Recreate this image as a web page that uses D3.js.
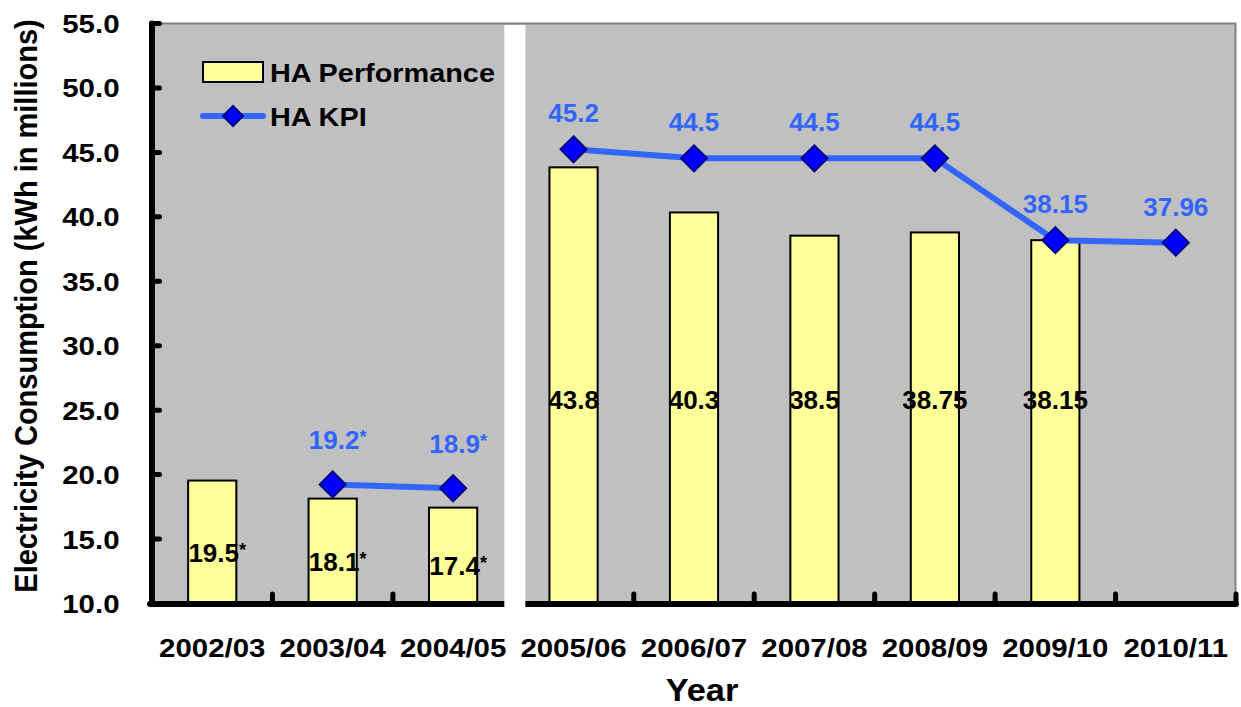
<!DOCTYPE html>
<html>
<head>
<meta charset="utf-8">
<script src="https://cdn.jsdelivr.net/npm/d3@7"></script>
<style>
  body { margin: 0; background: #fff; }
  text { font-family: "Liberation Sans", Arial, sans-serif; font-weight: bold; }
</style>
</head>
<body>
<div id="chart"></div>
<script>
// chart data
var years = ["2002/03", "2003/04", "2004/05", "2005/06", "2006/07", "2007/08", "2008/09", "2009/10", "2010/11"];
var performance = [19.5, 18.1, 17.4, 43.8, 40.3, 38.5, 38.75, 38.15, null];
var perfLabels = ["19.5", "18.1", "17.4", "43.8", "40.3", "38.5", "38.75", "38.15", ""];
var kpi = [null, 19.2, 18.9, 45.2, 44.5, 44.5, 44.5, 38.15, 37.96];
var kpiLabels = ["", "19.2", "18.9", "45.2", "44.5", "44.5", "44.5", "38.15", "37.96"];
var starred = [true, true, true, false, false, false, false, false, false];
var yTicks = [10, 15, 20, 25, 30, 35, 40, 45, 50, 55];

var width = 1241, height = 707;
var margin = {top: 23, right: 5, bottom: 104, left: 152};
// axis text in the original is a little wider than it is tall
var SX = 1.11;
var stretch = "scale(" + SX + ",1)";

var svg = d3.select("#chart")
  .append("svg")
  .attr("width", width)
  .attr("height", height);

var xScale = d3.scaleBand()
  .domain(years)
  .range([margin.left, width - margin.right])
  .paddingInner(0.6)
  .paddingOuter(0.3);

var yScale = d3.scaleLinear()
  .domain([10, 55])
  .range([height - margin.bottom, margin.top]);

var step = xScale.step();
var x0 = margin.left, x1 = width - margin.right;
var y0 = yScale(10), y1 = yScale(55);

function cx(d) { return xScale(d) + xScale.bandwidth() / 2; }

// plot background
svg.append("rect")
  .attr("x", x0).attr("y", y1)
  .attr("width", x1 - x0).attr("height", y0 - y1)
  .style("fill", "#c0c0c0");

svg.append("path")
  .attr("d", "M" + x0 + "," + (y1 + 0.5) + "H" + (x1 - 0.5) + "V" + y0)
  .style("fill", "none")
  .style("stroke", "#808080")
  .style("stroke-width", 2);

// bars
var barYears = years.filter(function(d, i) { return performance[i] != null; });

svg.selectAll(".bar")
  .data(barYears)
  .enter()
  .append("rect")
  .attr("class", "bar")
  .attr("x", function(d) { return xScale(d); })
  .attr("width", xScale.bandwidth())
  .attr("y", function(d) { return yScale(performance[years.indexOf(d)]); })
  .attr("height", function(d) { return y0 - yScale(performance[years.indexOf(d)]); })
  .style("fill", "#ffff99")
  .style("stroke", "#000")
  .style("stroke-width", 2);

// bar labels
var barText = svg.selectAll(".barlabel")
  .data(barYears)
  .enter()
  .append("text")
  .attr("class", "barlabel")
  .attr("x", function(d) { return cx(d) + (starred[years.indexOf(d)] ? 5 : 0); })
  .attr("y", function(d) {
    var i = years.indexOf(d);
    if (starred[i]) return (yScale(performance[i]) + y0) / 2 + 20;
    return yScale(25.8) + 10;
  })
  .attr("text-anchor", "middle")
  .style("font-size", "26px")
  .style("fill", "#000");
barText.append("tspan").text(function(d) { return perfLabels[years.indexOf(d)]; });
barText.append("tspan")
  .text(function(d) { return starred[years.indexOf(d)] ? "*" : ""; })
  .attr("dy", -6)
  .style("font-size", "18px");

// KPI line, broken between the two periods
var segs = [years.slice(0, 3), years.slice(3)];
segs.forEach(function(seg) {
  svg.append("path")
    .datum(seg.filter(function(d) { return kpi[years.indexOf(d)] != null; }))
    .attr("d", d3.line()
      .x(cx)
      .y(function(d) { return yScale(kpi[years.indexOf(d)]); }))
    .style("fill", "none")
    .style("stroke", "#3366ff")
    .style("stroke-width", 6);
});

var kpiYears = years.filter(function(d, i) { return kpi[i] != null; });

svg.selectAll(".diamond")
  .data(kpiYears)
  .enter()
  .append("path")
  .attr("class", "diamond")
  .attr("d", "M0,-13L13,0L0,13L-13,0Z")
  .attr("transform", function(d) {
    return "translate(" + cx(d) + "," + yScale(kpi[years.indexOf(d)]) + ")";
  })
  .style("fill", "#0000ff")
  .style("stroke", "#000080")
  .style("stroke-width", 2);

var kpiText = svg.selectAll(".kpilabel")
  .data(kpiYears)
  .enter()
  .append("text")
  .attr("class", "kpilabel")
  .attr("x", function(d) { return cx(d) + (starred[years.indexOf(d)] ? 5 : 0); })
  .attr("y", function(d) {
    var i = years.indexOf(d);
    return yScale(kpi[i]) - (starred[i] ? 45 : 37) + 10;
  })
  .attr("text-anchor", "middle")
  .style("font-size", "26px")
  .style("fill", "#3366ff");
kpiText.append("tspan").text(function(d) { return kpiLabels[years.indexOf(d)]; });
kpiText.append("tspan")
  .text(function(d) { return starred[years.indexOf(d)] ? "*" : ""; })
  .attr("dy", -6)
  .style("font-size", "18px");

// y axis
var yAxis = svg.append("g")
  .attr("transform", "translate(" + (x0 - 0.5) + ",0)")
  .call(d3.axisLeft(yScale)
    .tickValues(yTicks)
    .tickFormat(d3.format(".1f"))
    .tickSizeInner(-8)
    .tickSizeOuter(0)
    .tickPadding(32 / SX));
yAxis.select(".domain").style("stroke", "#000").style("stroke-width", 6).style("stroke-linecap", "round");
yAxis.selectAll(".tick line").style("stroke", "#000").style("stroke-width", 5).style("stroke-linecap", "round");
yAxis.selectAll(".tick text")
  .attr("transform", stretch)
  .style("font-size", "26.5px")
  .style("fill", "#000")
  .attr("dy", "0.36em");

// x axis: labels at the centres, ticks on category boundaries
var xAxis = svg.append("g")
  .attr("transform", "translate(0," + (y0 + 1) + ")")
  .call(d3.axisBottom(xScale).tickSize(0).tickPadding(34));
xAxis.select(".domain").remove();
xAxis.selectAll(".tick text")
  .attr("transform", stretch)
  .style("font-size", "26.5px")
  .style("fill", "#000");

svg.append("line")
  .attr("x1", x0 - 2).attr("x2", x1)
  .attr("y1", y0 + 1).attr("y2", y0 + 1)
  .style("stroke", "#000")
  .style("stroke-width", 6)
  .style("stroke-linecap", "round");

svg.selectAll(".xtick")
  .data(years)
  .enter()
  .append("line")
  .attr("class", "xtick")
  .attr("x1", function(d) { return xScale(d) - xScale.bandwidth() * 0.75 + step; })
  .attr("x2", function(d) { return xScale(d) - xScale.bandwidth() * 0.75 + step; })
  .attr("y1", y0)
  .attr("y2", y0 - 9)
  .style("stroke", "#000")
  .style("stroke-width", 5)
  .style("stroke-linecap", "round");

// white break between 2004/05 and 2005/06
var gapX = xScale("2005/06") - xScale.bandwidth() * 0.75;
svg.append("rect")
  .attr("x", gapX - 9).attr("y", y1 + 2)
  .attr("width", 21).attr("height", y0 - y1 + 6)
  .style("fill", "#fff");

// axis titles
svg.append("text")
  .attr("transform", stretch)
  .attr("x", ((x0 + x1) / 2 + 8) / SX)
  .attr("y", 701)
  .attr("text-anchor", "middle")
  .style("font-size", "31px")
  .style("fill", "#000")
  .text("Year");

svg.append("text")
  .attr("transform", "translate(37,306) " + stretch + " rotate(-90)")
  .attr("text-anchor", "middle")
  .style("font-size", "29px")
  .style("fill", "#000")
  .text("Electricity Consumption (kWh in millions)");

// legend
var legend = svg.append("g");
legend.append("rect")
  .attr("x", 203).attr("y", 62).attr("width", 60).attr("height", 20)
  .style("fill", "#ffff99").style("stroke", "#000").style("stroke-width", 2);
legend.append("text")
  .attr("transform", stretch)
  .attr("x", 270 / SX).attr("y", 82)
  .style("font-size", "26px").style("fill", "#000")
  .text("HA Performance");
legend.append("line")
  .attr("x1", 203).attr("x2", 263).attr("y1", 116).attr("y2", 116)
  .style("stroke", "#3366ff").style("stroke-width", 6).style("stroke-linecap", "round");
legend.append("path")
  .attr("d", "M0,-10L10,0L0,10L-10,0Z")
  .attr("transform", "translate(233,116)")
  .style("fill", "#0000ff").style("stroke", "#000080").style("stroke-width", 2);
legend.append("text")
  .attr("transform", stretch)
  .attr("x", 270 / SX).attr("y", 126)
  .style("font-size", "26px").style("fill", "#000")
  .text("HA KPI");
</script>
</body>
</html>
